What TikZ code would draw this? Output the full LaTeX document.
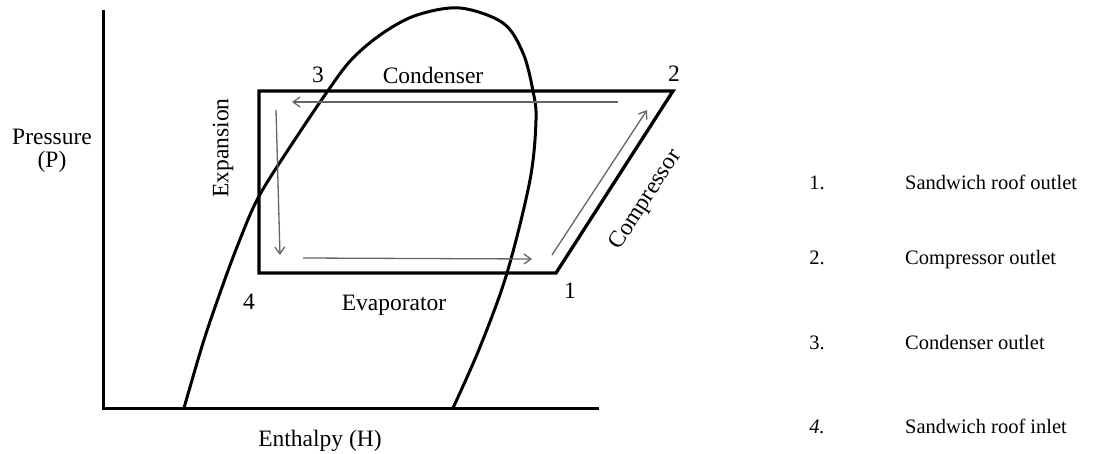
\documentclass[tikz,border=0pt]{standalone}
\usepackage{fontspec}
\setmainfont{Liberation Serif}
\usetikzlibrary{arrows.meta}
\begin{document}
\begin{tikzpicture}[x=1pt,y=-1pt,
  thickline/.style={line width=3pt},
  flow/.style={line width=1.3pt, black!60, -{Straight Barb[length=7pt,width=10pt,line width=1.3pt]}},
  lbl/.style={inner sep=0pt, font=\fontsize{23.5}{26}\selectfont},
  legnum/.style={inner sep=0pt, anchor=base, font=\fontsize{20.5}{24}\selectfont},
  legtxt/.style={inner sep=0pt, anchor=base west, font=\fontsize{20.5}{24}\selectfont}]
\useasboundingbox (0,0) rectangle (1110,454);
% axes
\coordinate (top) at (103,12);
\coordinate (origin) at (103,408);
\coordinate (hend) at (597,408);
\draw[thickline, line cap=rect] (top) -- (origin) -- (hend);
% saturation dome
\draw[thickline] plot[smooth, tension=0.55] coordinates {
 (184,408) (203,343) (220,293) (237,247) (258,198) (290,147) (327,92)
 (352,59) (383,33) (417,15) (460,8) (503,23) (523,53) (533,91) (536,120)
 (530,180) (507,273) (480,347) (453,408)};
% cycle
\coordinate (p1) at (556,273);
\coordinate (p2) at (673,91);
\coordinate (p3) at (259,91);
\coordinate (p4) at (259,273);
\draw[line width=3.3pt, line join=miter] (p1) -- (p2) -- (p3) -- (p4) -- cycle;
% flow arrows
\coordinate (ta) at (618,102); \coordinate (tb) at (292,102);
\coordinate (la) at (276,110); \coordinate (lb) at (280,255);
\coordinate (ba) at (303,258); \coordinate (bb) at (532,259);
\coordinate (da) at (552,255); \coordinate (db) at (647,110);
\draw[flow] (ta) -- (tb);
\draw[flow] (la) -- (lb);
\draw[flow] (ba) -- (bb);
\draw[flow] (da) -- (db);
% labels
\node[lbl] (pres) at (52,137) {Pressure};
\node[lbl] (presP) at (52,162) {(P)};
\node[lbl] (enth) at (320,441) {Enthalpy (H)};
\node[lbl] (cond) at (433,75) {Condenser};
\node[lbl] (n3) at (318,75) {3};
\node[lbl] (n2) at (674,74) {2};
\node[lbl, rotate=90] (exp) at (223,148) {Expansion};
\node[lbl, rotate=57] (comp) at (646,200) {Compressor};
\node[lbl] (evap) at (394,305) {Evaporator};
\node[lbl] (n4) at (249,302) {4};
\node[lbl] (n1) at (570,291) {1};
% legend
\node[legnum] (l1) at (817,190) {1.};
\node[legtxt] (t1) at (905,190) {Sandwich roof outlet};
\node[legnum] (l2) at (817,265) {2.};
\node[legtxt] (t2) at (905,265) {Compressor outlet};
\node[legnum] (l3) at (817,349) {3.};
\node[legtxt] (t3) at (905,349) {Condenser outlet};
\node[legnum] (l4) at (817,433) {\itshape 4.};
\node[legtxt] (t4) at (905,433) {Sandwich roof inlet};
\end{tikzpicture}
\end{document}
